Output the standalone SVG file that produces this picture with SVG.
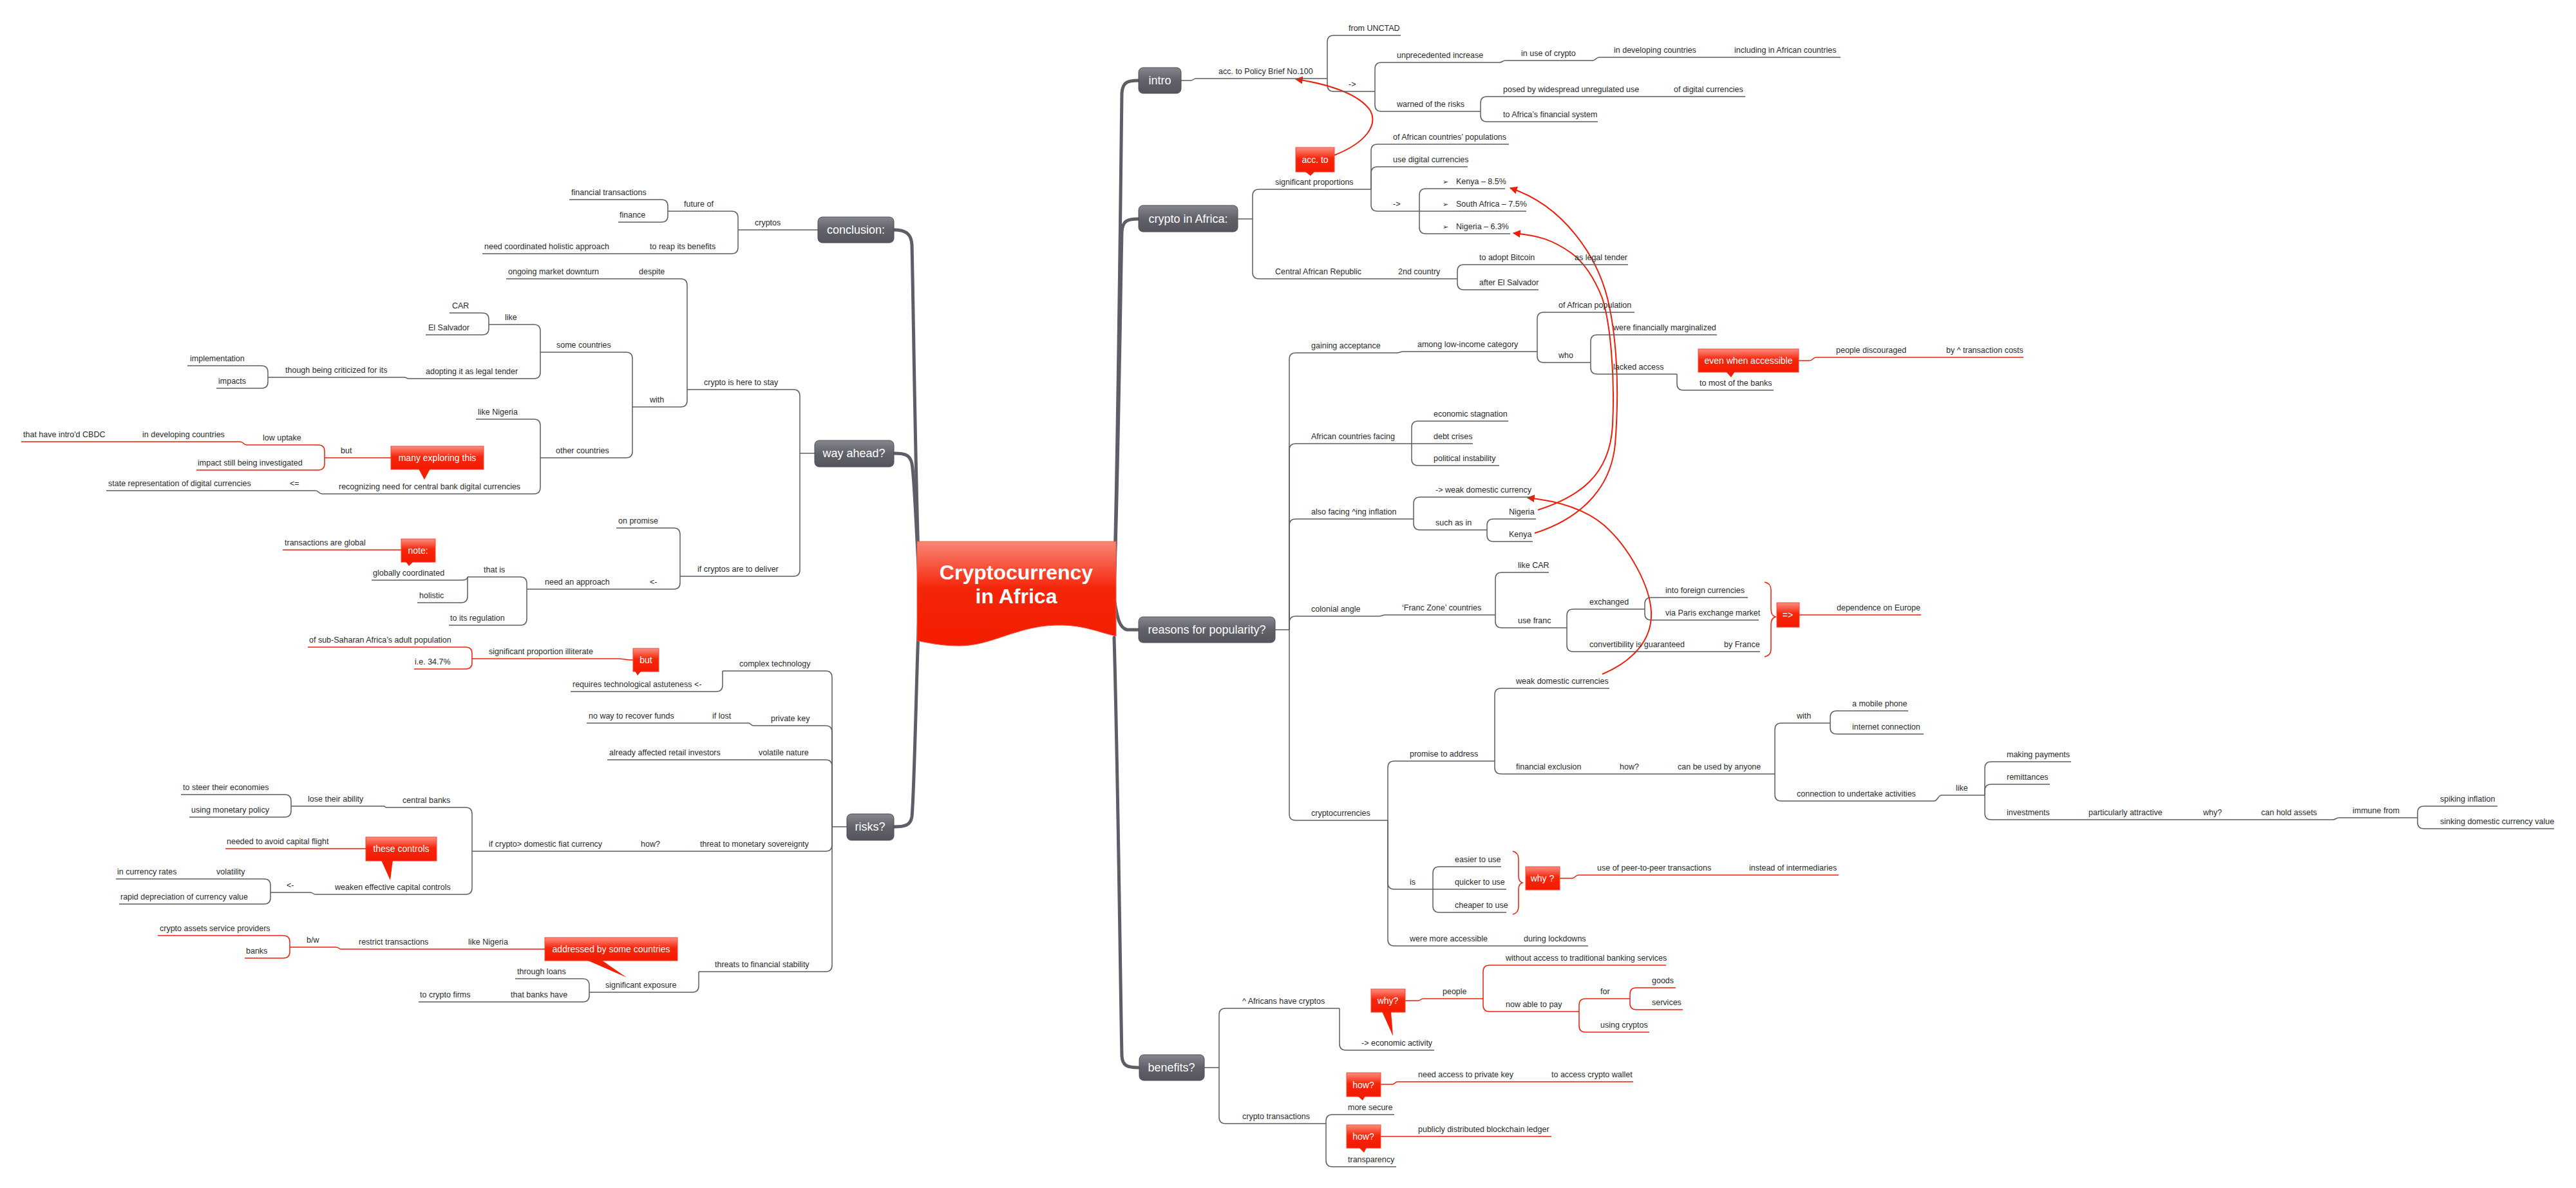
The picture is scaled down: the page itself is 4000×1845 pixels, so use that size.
<svg xmlns="http://www.w3.org/2000/svg" width="4000" height="1845" viewBox="0 0 4000 1845">
<style>
.t{font-family:"Liberation Sans",Arial,sans-serif;font-size:12.5px;fill:#2a2a2a}
.g{stroke:#5b5c64;stroke-width:1.5;fill:none}
.r{stroke:#ee1e08;stroke-width:1.5;fill:none}
.trunk{stroke:#5d5e66;stroke-width:5;fill:none;stroke-linecap:round}
.tb{fill:url(#gg);stroke:#4d4e55;stroke-width:1}
.tt{font-family:"Liberation Sans",Arial,sans-serif;font-size:18px;fill:#fff;text-anchor:middle}
.cb{fill:url(#rg);stroke:#f24a36;stroke-width:1}
.tail{fill:#f41e00}
.ctx{font-family:"Liberation Sans",Arial,sans-serif;font-size:14px;fill:#fff;text-anchor:middle}
.rel{stroke:#ee1e08;stroke-width:2;fill:none;marker-end:url(#ah)}
.title{font-family:"Liberation Sans",Arial,sans-serif;font-size:32px;font-weight:bold;fill:#fff;text-anchor:middle}
</style>
<defs>
<linearGradient id="gg" x1="0" y1="0" x2="0" y2="1"><stop offset="0" stop-color="#85868e"/><stop offset="0.5" stop-color="#606169"/><stop offset="1" stop-color="#55565d"/></linearGradient>
<linearGradient id="rg" x1="0" y1="0" x2="0" y2="1"><stop offset="0" stop-color="#fd8d7f"/><stop offset="0.45" stop-color="#f6260b"/><stop offset="1" stop-color="#f41a00"/></linearGradient>
<linearGradient id="cg" x1="0" y1="0" x2="0" y2="1"><stop offset="0" stop-color="#f98676"/><stop offset="0.45" stop-color="#f5250a"/><stop offset="1" stop-color="#f41c00"/></linearGradient>
<marker id="ah" viewBox="0 0 10 10" refX="9" refY="5" markerWidth="6" markerHeight="6" orient="auto" markerUnits="strokeWidth"><path d="M0,0 L10,5 L0,10 z" fill="#ee1e08"/></marker>
</defs>
<rect width="4000" height="1845" fill="#fff"/>

<g id="connectors">
<!-- trunks -->
<path class="trunk" d="M1428,910 C1422,800 1418,450 1416,380 C1415,362 1405,357 1388,357"/>
<path class="trunk" d="M1428,915 C1424,850 1420,740 1416,720 C1413,706 1405,704 1388,704"/>
<path class="trunk" d="M1428,930 C1424,1000 1420,1230 1416,1268 C1414,1282 1405,1284 1388,1284"/>
<path class="trunk" d="M1730,915 C1736,700 1740,300 1742,145 C1743,128 1750,125 1768,125"/>
<path class="trunk" d="M1730,915 C1736,750 1740,450 1742,360 C1743,343 1750,340 1768,340"/>
<path class="trunk" d="M1730,930 C1735,960 1738,975 1750,978 H1768"/>
<path class="trunk" d="M1730,990 C1736,1200 1740,1550 1742,1640 C1743,1655 1750,1658 1768,1658"/>
<!-- intro -->
<path class="g" d="M1834,125 H1849 C1853,125 1853,122 1857,122"/>
<path class="g" d="M2061,122 V65 Q2061,55 2071,55"/>
<path class="g" d="M2061,122 V132 Q2061,142 2071,142"/>
<path class="g" d="M2135,142 V107 Q2135,97 2145,97"/>
<path class="g" d="M2135,142 V163 Q2135,173 2145,173"/>
<path class="g" d="M2328,97 C2333,97 2333,94 2338,94"/>
<path class="g" d="M2473,94 C2478,94 2478,89 2483,89"/>
<path class="g" d="M2299,173 V160 Q2299,150 2309,150"/>
<path class="g" d="M2299,173 V179 Q2299,189 2309,189"/>
<!-- crypto in Africa -->
<path class="g" d="M1922,340 H1945"/>
<path class="g" d="M1945,340 V304 Q1945,294 1955,294"/>
<path class="g" d="M1945,340 V423 Q1945,433 1955,433"/>
<path class="g" d="M2129,294 V234 Q2129,224 2139,224"/>
<path class="g" d="M2129,294 V269 Q2129,259 2139,259"/>
<path class="g" d="M2129,294 V318 Q2129,328 2139,328"/>
<path class="g" d="M2204,328 V303 Q2204,293 2214,293"/>
<path class="g" d="M2204,328 H2214"/>
<path class="g" d="M2204,328 V353 Q2204,363 2214,363"/>
<path class="g" d="M2263,433 V421 Q2263,411 2273,411"/>
<path class="g" d="M2263,433 V440 Q2263,450 2273,450"/>
<!-- reasons -->
<path class="g" d="M1980,978 H2002"/>
<path class="g" d="M2002,978 V558 Q2002,548 2012,548"/>
<path class="g" d="M2002,978 V699 Q2002,689 2012,689"/>
<path class="g" d="M2002,978 V816 Q2002,806 2012,806"/>
<path class="g" d="M2002,978 V967 Q2002,957 2012,957"/>
<path class="g" d="M2002,978 V1264 Q2002,1274 2012,1274"/>
<path class="g" d="M2169,548 C2174,548 2174,546 2179,546"/>
<path class="g" d="M2387,546 V495 Q2387,485 2397,485"/>
<path class="g" d="M2387,546 V553 Q2387,563 2397,563"/>
<path class="g" d="M2470,563 V530 Q2470,520 2480,520"/>
<path class="g" d="M2470,563 V571 Q2470,581 2480,581"/>
<path class="g" d="M2604,581 V596 Q2604,606 2614,606"/>
<path class="r" d="M2793,560 H2810 C2815,560 2815,555 2820,555"/>
<path class="g" d="M2192,689 V664 Q2192,654 2202,654"/>
<path class="g" d="M2192,689 H2202"/>
<path class="g" d="M2192,689 V713 Q2192,723 2202,723"/>
<path class="g" d="M2195,806 V782 Q2195,772 2205,772"/>
<path class="g" d="M2195,806 V813 Q2195,823 2205,823"/>
<path class="g" d="M2309,823 V816 Q2309,806 2319,806"/>
<path class="g" d="M2309,823 V831 Q2309,841 2319,841"/>
<path class="g" d="M2141,957 C2146,957 2146,955 2151,955"/>
<path class="g" d="M2322,955 V899 Q2322,889 2332,889"/>
<path class="g" d="M2322,955 V965 Q2322,975 2332,975"/>
<path class="g" d="M2433,975 V956 Q2433,946 2443,946"/>
<path class="g" d="M2433,975 V1002 Q2433,1012 2443,1012"/>
<path class="g" d="M2554,946 V938 Q2554,928 2564,928"/>
<path class="g" d="M2554,946 V953 Q2554,963 2564,963"/>
<path class="r" d="M2740,904 Q2750,906 2750,916 V946 Q2750,956 2757,958 Q2750,960 2750,970 V1008 Q2750,1018 2740,1020"/>
<path class="g" d="M2155,1274 V1192 Q2155,1182 2165,1182"/>
<path class="g" d="M2155,1274 V1371 Q2155,1381 2165,1381"/>
<path class="g" d="M2155,1274 V1459 Q2155,1469 2165,1469"/>
<path class="g" d="M2321,1182 V1079 Q2321,1069 2331,1069"/>
<path class="g" d="M2321,1182 V1192 Q2321,1202 2331,1202"/>
<path class="g" d="M2756,1202 V1133 Q2756,1123 2766,1123"/>
<path class="g" d="M2756,1202 V1234 Q2756,1244 2766,1244"/>
<path class="g" d="M2842,1123 V1114 Q2842,1104 2852,1104"/>
<path class="g" d="M2842,1123 V1130 Q2842,1140 2852,1140"/>
<path class="g" d="M3003,1244 C3009,1244 3009,1235 3015,1235"/>
<path class="g" d="M3082,1235 V1193 Q3082,1183 3092,1183"/>
<path class="g" d="M3082,1235 V1228 Q3082,1218 3092,1218"/>
<path class="g" d="M3082,1235 V1263 Q3082,1273 3092,1273"/>
<path class="g" d="M3622,1273 C3627,1273 3627,1270 3632,1270"/>
<path class="g" d="M3754,1270 V1262 Q3754,1252 3764,1252"/>
<path class="g" d="M3754,1270 V1277 Q3754,1287 3764,1287"/>
<path class="g" d="M2225,1381 V1356 Q2225,1346 2235,1346"/>
<path class="g" d="M2225,1381 H2235"/>
<path class="g" d="M2225,1381 V1407 Q2225,1417 2235,1417"/>
<path class="r" d="M2349,1322 Q2358,1324 2358,1334 V1361 Q2358,1369 2364,1371 Q2358,1373 2358,1381 V1408 Q2358,1418 2349,1420"/>
<path class="r" d="M2422,1364 H2441 C2446,1364 2446,1359 2451,1359"/>
<!-- benefits -->
<path class="g" d="M1870,1658 H1893"/>
<path class="g" d="M1893,1658 V1576 Q1893,1566 1903,1566"/>
<path class="g" d="M1893,1658 V1735 Q1893,1745 1903,1745"/>
<path class="g" d="M2080,1566 V1621 Q2080,1631 2090,1631"/>
<path class="r" d="M2182,1554 H2202 C2206,1554 2206,1551 2210,1551"/>
<path class="r" d="M2303,1551 V1509 Q2303,1499 2313,1499"/>
<path class="r" d="M2303,1551 V1561 Q2303,1571 2313,1571"/>
<path class="r" d="M2452,1571 V1561 Q2452,1551 2462,1551"/>
<path class="r" d="M2452,1571 V1593 Q2452,1603 2462,1603"/>
<path class="r" d="M2531,1551 V1544 Q2531,1534 2541,1534"/>
<path class="r" d="M2531,1551 V1558 Q2531,1568 2541,1568"/>
<path class="g" d="M2059,1745 V1741 Q2059,1731 2069,1731"/>
<path class="g" d="M2059,1745 V1802 Q2059,1812 2069,1812"/>
<path class="r" d="M2144,1684 H2162 C2166,1684 2166,1680 2170,1680"/>
<path class="r" d="M2144,1765 H2150"/>
<!-- conclusion -->
<path class="g" d="M1270,357 H1215"/>
<path class="g" d="M1146,357 V338 Q1146,328 1136,328"/>
<path class="g" d="M1146,357 V384 Q1146,394 1136,394"/>
<path class="g" d="M1037,328 V320 Q1037,310 1027,310"/>
<path class="g" d="M1037,328 V335 Q1037,345 1027,345"/>
<!-- way ahead -->
<path class="g" d="M1265,704 H1242"/>
<path class="g" d="M1242,704 V615 Q1242,605 1232,605"/>
<path class="g" d="M1242,704 V885 Q1242,895 1232,895"/>
<path class="g" d="M1067,605 V443 Q1067,433 1057,433"/>
<path class="g" d="M1067,605 V622 Q1067,632 1057,632"/>
<path class="g" d="M982,632 V557 Q982,547 972,547"/>
<path class="g" d="M982,632 V701 Q982,711 972,711"/>
<path class="g" d="M839,547 V514 Q839,504 829,504"/>
<path class="g" d="M839,547 V578 Q839,588 829,588"/>
<path class="g" d="M759,504 V496 Q759,486 749,486"/>
<path class="g" d="M759,504 V510 Q759,520 749,520"/>
<path class="g" d="M635,588 C631,588 631,586 628,586"/>
<path class="g" d="M416,586 V578 Q416,568 406,568"/>
<path class="g" d="M416,586 V593 Q416,603 406,603"/>
<path class="g" d="M839,711 V661 Q839,651 829,651"/>
<path class="g" d="M839,711 V757 Q839,767 829,767"/>
<path class="g" d="M500,767 C495,767 495,762 490,762"/>
<path class="r" d="M504,711 V701 Q504,691 494,691"/>
<path class="r" d="M504,711 V720 Q504,730 494,730"/>
<path class="r" d="M383,691 C378,691 378,686 373,686"/>
<path class="g" d="M1056,895 V830 Q1056,820 1046,820"/>
<path class="g" d="M1056,895 V905 Q1056,915 1046,915"/>
<path class="g" d="M818,915 V906 Q818,896 808,896"/>
<path class="g" d="M818,915 V961 Q818,971 808,971"/>
<path class="g" d="M726,896 C726,900 722,901 716,901"/>
<path class="g" d="M726,896 V926 Q726,936 716,936"/>
<!-- risks -->
<path class="g" d="M1315,1284 H1292"/>
<path class="g" d="M1292,1284 V1052 Q1292,1042 1282,1042"/>
<path class="g" d="M1292,1284 V1137 Q1292,1127 1282,1127"/>
<path class="g" d="M1292,1284 V1190 Q1292,1180 1282,1180"/>
<path class="g" d="M1292,1284 V1312 Q1292,1322 1282,1322"/>
<path class="g" d="M1292,1284 V1499 Q1292,1509 1282,1509"/>
<path class="g" d="M1122,1042 V1064 Q1122,1074 1112,1074"/>
<path class="r" d="M983,1025 C970,1025 968,1023 960,1023"/>
<path class="r" d="M733,1023 V1015 Q733,1005 723,1005"/>
<path class="r" d="M733,1023 V1029 Q733,1039 723,1039"/>
<path class="g" d="M1170,1127 C1166,1127 1166,1123 1162,1123"/>
<path class="g" d="M733,1322 V1264 Q733,1254 723,1254"/>
<path class="g" d="M733,1322 V1379 Q733,1389 723,1389"/>
<path class="g" d="M600,1254 C598,1254 598,1252 596,1252"/>
<path class="g" d="M452,1252 V1244 Q452,1234 442,1234"/>
<path class="g" d="M452,1252 V1259 Q452,1269 442,1269"/>
<path class="g" d="M490,1389 C486,1389 486,1386 482,1386"/>
<path class="g" d="M420,1386 V1375 Q420,1365 410,1365"/>
<path class="g" d="M420,1386 V1394 Q420,1404 410,1404"/>
<path class="g" d="M1085,1509 V1531 Q1085,1541 1075,1541"/>
<path class="g" d="M915,1541 V1530 Q915,1520 905,1520"/>
<path class="g" d="M915,1541 V1546 Q915,1556 905,1556"/>
<path class="r" d="M530,1474 C526,1474 526,1471 522,1471"/>
<path class="r" d="M450,1471 V1463 Q450,1453 440,1453"/>
<path class="r" d="M450,1471 V1478 Q450,1488 440,1488"/>
<!-- relationships -->
<path class="rel" d="M2072,241 C2120,222 2140,195 2128,172 C2110,145 2060,130 2012,123"/>
<path class="rel" d="M2388,792 C2450,772 2500,740 2504,660 C2508,580 2500,500 2488,463 C2475,430 2460,408 2440,393 C2410,372 2390,366 2350,362"/>
<path class="rel" d="M2383,828 C2440,810 2500,770 2508,690 C2515,600 2510,520 2496,463 C2480,400 2430,320 2345,292"/>
<path class="rel" d="M2488,1047 C2540,1025 2566,990 2564,950 C2562,910 2530,850 2490,815 C2460,790 2420,778 2372,773"/>
</g>

<g id="center">
<path d="M1424,841 H1733 V988 C1700,980 1680,970 1640,971 C1580,972 1540,1003 1490,1003 C1460,1003 1440,998 1424,995 Z" fill="url(#cg)" stroke="#f25a45" stroke-width="1"/>
<text class="title" x="1578" y="900">Cryptocurrency</text>
<text class="title" x="1578" y="937">in Africa</text>
</g>

<!-- main topics -->
<g id="topic-intro"><rect class="tb" x="1768" y="105" width="66" height="40" rx="7"/><text class="tt" x="1801" y="131">intro</text></g>
<g id="topic-crypto-in-africa"><rect class="tb" x="1768" y="319" width="154" height="41" rx="7"/><text class="tt" x="1845" y="346">crypto in Africa:</text></g>
<g id="topic-reasons"><rect class="tb" x="1768" y="958" width="212" height="40" rx="7"/><text class="tt" x="1874" y="984">reasons for popularity?</text></g>
<g id="topic-benefits"><rect class="tb" x="1769" y="1638" width="101" height="40" rx="7"/><text class="tt" x="1819" y="1664">benefits?</text></g>
<g id="topic-conclusion"><rect class="tb" x="1270" y="337" width="118" height="40" rx="7"/><text class="tt" x="1329" y="363">conclusion:</text></g>
<g id="topic-way-ahead"><rect class="tb" x="1265" y="684" width="123" height="41" rx="7"/><text class="tt" x="1326" y="710">way ahead?</text></g>
<g id="topic-risks"><rect class="tb" x="1315" y="1264" width="73" height="41" rx="7"/><text class="tt" x="1351" y="1290">risks?</text></g>

<!-- intro nodes -->
<g id="n-policy-brief"><text class="t" x="1892" y="115">acc. to Policy Brief No.100</text><path class="g" d="M1857,122H2061"/></g>
<g id="n-unctad"><text class="t" x="2094" y="48">from UNCTAD</text><path class="g" d="M2071,55H2175"/></g>
<g id="n-arrow1"><text class="t" x="2094" y="135">-&gt;</text><path class="g" d="M2071,142H2135"/></g>
<g id="n-unprecedented"><text class="t" x="2169" y="90">unprecedented increase</text><path class="g" d="M2145,97H2328"/></g>
<g id="n-in-use"><text class="t" x="2362" y="87">in use of crypto</text><path class="g" d="M2338,94H2473"/></g>
<g id="n-in-dev"><text class="t" x="2506" y="82">in developing countries</text><path class="g" d="M2483,89H2660"/></g>
<g id="n-incl-african"><text class="t" x="2693" y="82">including in African countries</text><path class="g" d="M2660,89H2858"/></g>
<g id="n-warned"><text class="t" x="2169" y="166">warned of the risks</text><path class="g" d="M2145,173H2299"/></g>
<g id="n-posed"><text class="t" x="2334" y="143">posed by widespread unregulated use</text><path class="g" d="M2309,150H2569"/></g>
<g id="n-of-digital"><text class="t" x="2599" y="143">of digital currencies</text><path class="g" d="M2569,150H2710"/></g>
<g id="n-to-africa-fin"><text class="t" x="2334" y="182">to Africa’s financial system</text><path class="g" d="M2309,189H2481"/></g>

<!-- crypto in Africa nodes -->
<g id="n-sig-prop"><text class="t" x="1980" y="287">significant proportions</text><path class="g" d="M1955,294H2129"/></g>
<g id="n-of-african-pop"><text class="t" x="2163" y="217">of African countries’ populations</text><path class="g" d="M2139,224H2343"/></g>
<g id="n-use-digital"><text class="t" x="2163" y="252">use digital currencies</text><path class="g" d="M2139,259H2279"/></g>
<g id="n-arrow2"><text class="t" x="2163" y="321">-&gt;</text><path class="g" d="M2139,328H2204"/></g>
<g id="n-kenya85"><text class="t" x="2240" y="286"><tspan font-family="DejaVu Sans" font-size="11">➢</tspan><tspan x="2261">Kenya – 8.5%</tspan></text><path class="g" d="M2214,293H2337"/></g>
<g id="n-sa75"><text class="t" x="2240" y="321"><tspan font-family="DejaVu Sans" font-size="11">➢</tspan><tspan x="2261">South Africa – 7.5%</tspan></text><path class="g" d="M2214,328H2370"/></g>
<g id="n-nigeria63"><text class="t" x="2240" y="356"><tspan font-family="DejaVu Sans" font-size="11">➢</tspan><tspan x="2261">Nigeria – 6.3%</tspan></text><path class="g" d="M2214,363H2345"/></g>
<g id="n-car-full"><text class="t" x="1980" y="426">Central African Republic</text><path class="g" d="M1955,433H2167"/></g>
<g id="n-2nd"><text class="t" x="2171" y="426">2nd country</text><path class="g" d="M2167,433H2263"/></g>
<g id="n-adopt-btc"><text class="t" x="2297" y="404">to adopt Bitcoin</text><path class="g" d="M2273,411H2420"/></g>
<g id="n-legal-tender"><text class="t" x="2445" y="404">as legal tender</text><path class="g" d="M2420,411H2528"/></g>
<g id="n-after-els"><text class="t" x="2297" y="443">after El Salvador</text><path class="g" d="M2273,450H2389"/></g>
<g id="c-acc-to"><rect class="cb" x="2012" y="229" width="60" height="38"/><polygon class="tail" points="2026,266 2035,273 2042,266"/><text class="ctx" x="2042" y="253">acc. to</text></g>

<!-- reasons nodes -->
<g id="n-gaining"><text class="t" x="2036" y="541">gaining acceptance</text><path class="g" d="M2012,548H2169"/></g>
<g id="n-among"><text class="t" x="2201" y="539">among low-income category</text><path class="g" d="M2179,546H2387"/></g>
<g id="n-of-afr-pop"><text class="t" x="2420" y="478">of African population</text><path class="g" d="M2397,485H2538"/></g>
<g id="n-who"><text class="t" x="2420" y="556">who</text><path class="g" d="M2397,563H2470"/></g>
<g id="n-marginalized"><text class="t" x="2505" y="513">were financially marginalized</text><path class="g" d="M2480,520H2666"/></g>
<g id="n-lacked"><text class="t" x="2505" y="574">lacked access</text><path class="g" d="M2480,581H2604"/></g>
<g id="n-most-banks"><text class="t" x="2639" y="599">to most of the banks</text><path class="g" d="M2614,606H2754"/></g>
<g id="c-even-when"><rect class="cb" x="2637" y="542" width="156" height="36"/><polygon class="tail" points="2680,577 2688,586 2694,577"/><text class="ctx" x="2715" y="565">even when accessible</text></g>
<g id="n-discouraged"><text class="t" x="2851" y="548">people discouraged</text><path class="r" d="M2820,555H2987"/></g>
<g id="n-tx-costs"><text class="t" x="3022" y="548">by ^ transaction costs</text><path class="r" d="M2987,555H3142"/></g>
<g id="n-afr-facing"><text class="t" x="2036" y="682">African countries facing</text><path class="g" d="M2012,689H2192"/></g>
<g id="n-stagnation"><text class="t" x="2226" y="647">economic stagnation</text><path class="g" d="M2202,654H2342"/></g>
<g id="n-debt"><text class="t" x="2226" y="682">debt crises</text><path class="g" d="M2202,689H2287"/></g>
<g id="n-political"><text class="t" x="2226" y="716">political instability</text><path class="g" d="M2202,723H2328"/></g>
<g id="n-also-facing"><text class="t" x="2036" y="799">also facing ^ing inflation</text><path class="g" d="M2012,806H2195"/></g>
<g id="n-weak-currency"><text class="t" x="2229" y="765">-&gt; weak domestic currency</text><path class="g" d="M2205,772H2378"/></g>
<g id="n-such-as"><text class="t" x="2229" y="816">such as in</text><path class="g" d="M2205,823H2309"/></g>
<g id="n-nigeria"><text class="t" x="2343" y="799">Nigeria</text><path class="g" d="M2319,806H2385"/></g>
<g id="n-kenya"><text class="t" x="2343" y="834">Kenya</text><path class="g" d="M2319,841H2380"/></g>
<g id="n-colonial"><text class="t" x="2036" y="950">colonial angle</text><path class="g" d="M2012,957H2141"/></g>
<g id="n-franc-zone"><text class="t" x="2177" y="948">‘Franc Zone’ countries</text><path class="g" d="M2151,955H2322"/></g>
<g id="n-like-car"><text class="t" x="2357" y="882">like CAR</text><path class="g" d="M2332,889H2405"/></g>
<g id="n-use-franc"><text class="t" x="2357" y="968">use franc</text><path class="g" d="M2332,975H2433"/></g>
<g id="n-exchanged"><text class="t" x="2468" y="939">exchanged</text><path class="g" d="M2443,946H2554"/></g>
<g id="n-into-foreign"><text class="t" x="2586" y="921">into foreign currencies</text><path class="g" d="M2564,928H2714"/></g>
<g id="n-via-paris"><text class="t" x="2586" y="956">via Paris exchange market</text><path class="g" d="M2564,963H2731"/></g>
<g id="n-convert"><text class="t" x="2468" y="1005">convertibility is guaranteed</text><path class="g" d="M2443,1012H2644"/></g>
<g id="n-by-france"><text class="t" x="2677" y="1005">by France</text><path class="g" d="M2644,1012H2733"/></g>
<g id="c-implies"><rect class="cb" x="2759" y="936" width="35" height="38"/><text class="ctx" x="2776" y="960">=&gt;</text></g>
<g id="n-dependence"><text class="t" x="2852" y="948">dependence on Europe</text><path class="r" d="M2794,955H2983"/></g>
<g id="n-cryptocurrencies"><text class="t" x="2036" y="1267">cryptocurrencies</text><path class="g" d="M2012,1274H2155"/></g>
<g id="n-promise"><text class="t" x="2189" y="1175">promise to address</text><path class="g" d="M2165,1182H2321"/></g>
<g id="n-weak-currencies"><text class="t" x="2354" y="1062">weak domestic currencies</text><path class="g" d="M2331,1069H2499"/></g>
<g id="n-fin-excl"><text class="t" x="2354" y="1195">financial exclusion</text><path class="g" d="M2331,1202H2480"/></g>
<g id="n-how1"><text class="t" x="2515" y="1195">how?</text><path class="g" d="M2480,1202H2572"/></g>
<g id="n-anyone"><text class="t" x="2605" y="1195">can be used by anyone</text><path class="g" d="M2572,1202H2756"/></g>
<g id="n-with2"><text class="t" x="2790" y="1116">with</text><path class="g" d="M2766,1123H2842"/></g>
<g id="n-mobile"><text class="t" x="2876" y="1097">a mobile phone</text><path class="g" d="M2852,1104H2963"/></g>
<g id="n-internet"><text class="t" x="2876" y="1133">internet connection</text><path class="g" d="M2852,1140H2987"/></g>
<g id="n-connection"><text class="t" x="2790" y="1237">connection to undertake activities</text><path class="g" d="M2766,1244H3003"/></g>
<g id="n-like2"><text class="t" x="3037" y="1228">like</text><path class="g" d="M3015,1235H3082"/></g>
<g id="n-payments"><text class="t" x="3116" y="1176">making payments</text><path class="g" d="M3092,1183H3216"/></g>
<g id="n-remittances"><text class="t" x="3116" y="1211">remittances</text><path class="g" d="M3092,1218H3183"/></g>
<g id="n-investments"><text class="t" x="3116" y="1266">investments</text><path class="g" d="M3092,1273H3209"/></g>
<g id="n-attractive"><text class="t" x="3243" y="1266">particularly attractive</text><path class="g" d="M3209,1273H3389"/></g>
<g id="n-why2"><text class="t" x="3421" y="1266">why?</text><path class="g" d="M3389,1273H3476"/></g>
<g id="n-hold"><text class="t" x="3511" y="1266">can hold assets</text><path class="g" d="M3476,1273H3622"/></g>
<g id="n-immune"><text class="t" x="3653" y="1263">immune from</text><path class="g" d="M3632,1270H3754"/></g>
<g id="n-spiking"><text class="t" x="3789" y="1245">spiking inflation</text><path class="g" d="M3764,1252H3878"/></g>
<g id="n-sinking"><text class="t" x="3789" y="1280">sinking domestic currency value</text><path class="g" d="M3764,1287H3966"/></g>
<g id="n-is"><text class="t" x="2189" y="1374">is</text><path class="g" d="M2165,1381H2225"/></g>
<g id="n-easier"><text class="t" x="2259" y="1339">easier to use</text><path class="g" d="M2235,1346H2331"/></g>
<g id="n-quicker"><text class="t" x="2259" y="1374">quicker to use</text><path class="g" d="M2235,1381H2339"/></g>
<g id="n-cheaper"><text class="t" x="2259" y="1410">cheaper to use</text><path class="g" d="M2235,1417H2339"/></g>
<g id="c-why-sum"><rect class="cb" x="2369" y="1346" width="53" height="36"/><text class="ctx" x="2395" y="1369">why ?</text></g>
<g id="n-p2p"><text class="t" x="2480" y="1352">use of peer-to-peer transactions</text><path class="r" d="M2451,1359H2668"/></g>
<g id="n-intermediaries"><text class="t" x="2716" y="1352">instead of intermediaries</text><path class="r" d="M2668,1359H2855"/></g>
<g id="n-more-accessible"><text class="t" x="2189" y="1462">were more accessible</text><path class="g" d="M2165,1469H2341"/></g>
<g id="n-lockdowns"><text class="t" x="2366" y="1462">during lockdowns</text><path class="g" d="M2341,1469H2466"/></g>

<!-- benefits nodes -->
<g id="n-africans-have"><text class="t" x="1929" y="1559">^ Africans have cryptos</text><path class="g" d="M1903,1566H2080"/></g>
<g id="n-econ-activity"><text class="t" x="2114" y="1624">-&gt; economic activity</text><path class="g" d="M2090,1631H2227"/></g>
<g id="c-why-ben"><rect class="cb" x="2129" y="1536" width="53" height="36"/><polygon class="tail" points="2146,1571 2163,1609 2160,1571"/><text class="ctx" x="2155" y="1559">why?</text></g>
<g id="n-people"><text class="t" x="2240" y="1544">people</text><path class="r" d="M2210,1551H2303"/></g>
<g id="n-without-access"><text class="t" x="2338" y="1492">without access to traditional banking services</text><path class="r" d="M2313,1499H2587"/></g>
<g id="n-able-pay"><text class="t" x="2338" y="1564">now able to pay</text><path class="r" d="M2313,1571H2452"/></g>
<g id="n-for"><text class="t" x="2485" y="1544">for</text><path class="r" d="M2462,1551H2531"/></g>
<g id="n-goods"><text class="t" x="2565" y="1527">goods</text><path class="r" d="M2541,1534H2602"/></g>
<g id="n-services"><text class="t" x="2565" y="1561">services</text><path class="r" d="M2541,1568H2613"/></g>
<g id="n-using-cryptos"><text class="t" x="2485" y="1596">using cryptos</text><path class="r" d="M2462,1603H2561"/></g>
<g id="n-crypto-tx"><text class="t" x="1929" y="1738">crypto transactions</text><path class="g" d="M1903,1745H2059"/></g>
<g id="n-more-secure"><text class="t" x="2093" y="1724">more secure</text><path class="g" d="M2069,1731H2165"/></g>
<g id="c-how-a"><rect class="cb" x="2091" y="1666" width="53" height="37"/><polygon class="tail" points="2108,1702 2116,1709 2120,1702"/><text class="ctx" x="2117" y="1690">how?</text></g>
<g id="n-private-key2"><text class="t" x="2202" y="1673">need access to private key</text><path class="r" d="M2170,1680H2381"/></g>
<g id="n-wallet"><text class="t" x="2409" y="1673">to access crypto wallet</text><path class="r" d="M2381,1680H2536"/></g>
<g id="n-transparency"><text class="t" x="2093" y="1805">transparency</text><path class="g" d="M2069,1812H2168"/></g>
<g id="c-how-b"><rect class="cb" x="2091" y="1747" width="53" height="36"/><polygon class="tail" points="2110,1782 2118,1790 2122,1782"/><text class="ctx" x="2117" y="1770">how?</text></g>
<g id="n-ledger"><text class="t" x="2202" y="1758">publicly distributed blockchain ledger</text><path class="r" d="M2150,1765H2409"/></g>

<!-- conclusion nodes -->
<g id="n-cryptos"><text class="t" x="1172" y="350">cryptos</text><path class="g" d="M1146,357H1215"/></g>
<g id="n-future"><text class="t" x="1062" y="321">future of</text><path class="g" d="M1037,328H1136"/></g>
<g id="n-fin-tx"><text class="t" x="887" y="303">financial transactions</text><path class="g" d="M884,310H1027"/></g>
<g id="n-finance"><text class="t" x="962" y="338">finance</text><path class="g" d="M960,345H1027"/></g>
<g id="n-reap"><text class="t" x="1009" y="387">to reap its benefits</text><path class="g" d="M1000,394H1136"/></g>
<g id="n-holistic-approach"><text class="t" x="752" y="387">need coordinated holistic approach</text><path class="g" d="M749,394H1000"/></g>

<!-- way ahead nodes -->
<g id="n-here-to-stay"><text class="t" x="1093" y="598">crypto is here to stay</text><path class="g" d="M1067,605H1232"/></g>
<g id="n-despite"><text class="t" x="992" y="426">despite</text><path class="g" d="M936,433H1057"/></g>
<g id="n-downturn"><text class="t" x="789" y="426">ongoing market downturn</text><path class="g" d="M786,433H936"/></g>
<g id="n-with1"><text class="t" x="1009" y="625">with</text><path class="g" d="M982,632H1057"/></g>
<g id="n-some-countries"><text class="t" x="864" y="540">some countries</text><path class="g" d="M839,547H972"/></g>
<g id="n-like1"><text class="t" x="784" y="497">like</text><path class="g" d="M759,504H829"/></g>
<g id="n-car"><text class="t" x="702" y="479">CAR</text><path class="g" d="M698,486H749"/></g>
<g id="n-el-salvador"><text class="t" x="665" y="513">El Salvador</text><path class="g" d="M661,520H749"/></g>
<g id="n-adopting"><text class="t" x="661" y="581">adopting it as legal tender</text><path class="g" d="M635,588H829"/></g>
<g id="n-criticized"><text class="t" x="443" y="579">though being criticized for its</text><path class="g" d="M416,586H628"/></g>
<g id="n-implementation"><text class="t" x="295" y="561">implementation</text><path class="g" d="M291,568H406"/></g>
<g id="n-impacts"><text class="t" x="339" y="596">impacts</text><path class="g" d="M336,603H406"/></g>
<g id="n-other-countries"><text class="t" x="863" y="704">other countries</text><path class="g" d="M839,711H972"/></g>
<g id="n-like-nigeria1"><text class="t" x="742" y="644">like Nigeria</text><path class="g" d="M739,651H829"/></g>
<g id="n-recognizing"><text class="t" x="526" y="760">recognizing need for central bank digital currencies</text><path class="g" d="M500,767H829"/></g>
<g id="n-leq"><text class="t" x="450" y="755">&lt;=</text><path class="g" d="M420,762H490"/></g>
<g id="n-state-rep"><text class="t" x="168" y="755">state representation of digital currencies</text><path class="g" d="M165,762H420"/></g>
<g id="c-many"><rect class="cb" x="607" y="693" width="144" height="36"/><polygon class="tail" points="650,728 659,745 668,728"/><text class="ctx" x="679" y="716">many exploring this</text></g>
<g id="n-but1"><text class="t" x="529" y="704">but</text><path class="r" d="M504,711H607"/></g>
<g id="n-low-uptake"><text class="t" x="408" y="684">low uptake</text><path class="r" d="M383,691H494"/></g>
<g id="n-in-dev2"><text class="t" x="221" y="679">in developing countries</text><path class="r" d="M190,686H373"/></g>
<g id="n-cbdc"><text class="t" x="36" y="679">that have intro'd CBDC</text><path class="r" d="M33,686H190"/></g>
<g id="n-investigated"><text class="t" x="307" y="723">impact still being investigated</text><path class="r" d="M305,730H494"/></g>
<g id="n-deliver"><text class="t" x="1083" y="888">if cryptos are to deliver</text><path class="g" d="M1056,895H1232"/></g>
<g id="n-on-promise"><text class="t" x="960" y="813">on promise</text><path class="g" d="M957,820H1046"/></g>
<g id="n-larrow1"><text class="t" x="1009" y="908">&lt;-</text><path class="g" d="M980,915H1046"/></g>
<g id="n-need-approach"><text class="t" x="846" y="908">need an approach</text><path class="g" d="M818,915H980"/></g>
<g id="n-that-is"><text class="t" x="751" y="889">that is</text><path class="g" d="M726,896H808"/></g>
<g id="n-globally"><text class="t" x="579" y="894">globally coordinated</text><path class="g" d="M577,901H716"/></g>
<g id="n-holistic"><text class="t" x="651" y="929">holistic</text><path class="g" d="M648,936H716"/></g>
<g id="n-regulation"><text class="t" x="699" y="964">to its regulation</text><path class="g" d="M697,971H808"/></g>
<g id="c-note"><rect class="cb" x="623" y="837" width="53" height="36"/><polygon class="tail" points="630,872 635,879 642,872"/><text class="ctx" x="649" y="860">note:</text></g>
<g id="n-global"><text class="t" x="442" y="847">transactions are global</text><path class="r" d="M439,854H623"/></g>

<!-- risks nodes -->
<g id="n-complex"><text class="t" x="1148" y="1035">complex technology</text><path class="g" d="M1122,1042H1282"/></g>
<g id="n-astuteness"><text class="t" x="889" y="1067">requires technological astuteness &lt;-</text><path class="g" d="M886,1074H1112"/></g>
<g id="c-but2"><rect class="cb" x="983" y="1007" width="40" height="36"/><polygon class="tail" points="986,1042 990,1049 996,1042"/><text class="ctx" x="1003" y="1030">but</text></g>
<g id="n-illiterate"><text class="t" x="759" y="1016">significant proportion illiterate</text><path class="r" d="M733,1023H960"/></g>
<g id="n-subsaharan"><text class="t" x="480" y="998">of sub-Saharan Africa’s adult population</text><path class="r" d="M478,1005H723"/></g>
<g id="n-347"><text class="t" x="644" y="1032">i.e. 34.7%</text><path class="r" d="M643,1039H723"/></g>
<g id="n-private-key"><text class="t" x="1197" y="1120">private key</text><path class="g" d="M1170,1127H1282"/></g>
<g id="n-if-lost"><text class="t" x="1106" y="1116">if lost</text><path class="g" d="M1078,1123H1162"/></g>
<g id="n-no-way"><text class="t" x="914" y="1116">no way to recover funds</text><path class="g" d="M911,1123H1078"/></g>
<g id="n-volatile"><text class="t" x="1178" y="1173">volatile nature</text><path class="g" d="M1140,1180H1282"/></g>
<g id="n-retail"><text class="t" x="946" y="1173">already affected retail investors</text><path class="g" d="M943,1180H1140"/></g>
<g id="n-sovereignty"><text class="t" x="1087" y="1315">threat to monetary sovereignty</text><path class="g" d="M1045,1322H1282"/></g>
<g id="n-how3"><text class="t" x="995" y="1315">how?</text><path class="g" d="M953,1322H1045"/></g>
<g id="n-fiat"><text class="t" x="759" y="1315">if crypto&gt; domestic fiat currency</text><path class="g" d="M733,1322H953"/></g>
<g id="n-central-banks"><text class="t" x="625" y="1247">central banks</text><path class="g" d="M600,1254H723"/></g>
<g id="n-lose"><text class="t" x="478" y="1245">lose their ability</text><path class="g" d="M452,1252H596"/></g>
<g id="n-steer"><text class="t" x="284" y="1227">to steer their economies</text><path class="g" d="M281,1234H442"/></g>
<g id="n-monetary-policy"><text class="t" x="297" y="1262">using monetary policy</text><path class="g" d="M294,1269H442"/></g>
<g id="n-weaken"><text class="t" x="520" y="1382">weaken effective capital controls</text><path class="g" d="M490,1389H723"/></g>
<g id="n-larrow2"><text class="t" x="445" y="1379">&lt;-</text><path class="g" d="M420,1386H482"/></g>
<g id="n-volatility"><text class="t" x="336" y="1358">volatility</text><path class="g" d="M280,1365H410"/></g>
<g id="n-currency-rates"><text class="t" x="182" y="1358">in currency rates</text><path class="g" d="M180,1365H280"/></g>
<g id="n-depreciation"><text class="t" x="187" y="1397">rapid depreciation of currency value</text><path class="g" d="M185,1404H410"/></g>
<g id="c-these-controls"><rect class="cb" x="568" y="1300" width="110" height="37"/><polygon class="tail" points="592,1336 606,1367 610,1336"/><text class="ctx" x="623" y="1323">these controls</text></g>
<g id="n-capital-flight"><text class="t" x="352" y="1311">needed to avoid capital flight</text><path class="r" d="M350,1318H568"/></g>
<g id="n-stability"><text class="t" x="1110" y="1502">threats to financial stability</text><path class="g" d="M1085,1509H1282"/></g>
<g id="n-exposure"><text class="t" x="940" y="1534">significant exposure</text><path class="g" d="M915,1541H1075"/></g>
<g id="n-loans"><text class="t" x="803" y="1513">through loans</text><path class="g" d="M800,1520H905"/></g>
<g id="n-banks-have"><text class="t" x="793" y="1549">that banks have</text><path class="g" d="M740,1556H905"/></g>
<g id="n-crypto-firms"><text class="t" x="652" y="1549">to crypto firms</text><path class="g" d="M650,1556H740"/></g>
<g id="c-addressed"><rect class="cb" x="846" y="1456" width="206" height="36"/><polygon class="tail" points="911,1491 973,1518 934,1491"/><text class="ctx" x="949" y="1479">addressed by some countries</text></g>
<g id="n-like-nigeria2"><text class="t" x="727" y="1467">like Nigeria</text><path class="r" d="M690,1474H846"/></g>
<g id="n-restrict"><text class="t" x="557" y="1467">restrict transactions</text><path class="r" d="M530,1474H690"/></g>
<g id="n-bw"><text class="t" x="476" y="1464">b/w</text><path class="r" d="M450,1471H522"/></g>
<g id="n-casp"><text class="t" x="248" y="1446">crypto assets service providers</text><path class="r" d="M245,1453H440"/></g>
<g id="n-banks"><text class="t" x="382" y="1481">banks</text><path class="r" d="M380,1488H440"/></g>
</svg>
